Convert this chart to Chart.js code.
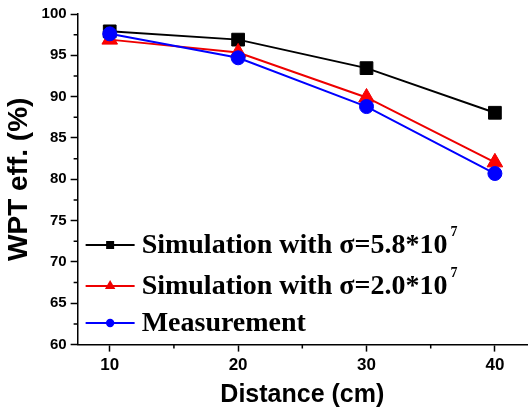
<!DOCTYPE html>
<html>
<head>
<meta charset="utf-8">
<script src="https://cdn.jsdelivr.net/npm/chart.js@4/dist/chart.umd.min.js"></script>
<style>
html,body{margin:0;padding:0;background:#fff;}
#wrap{width:529px;height:410px;}
</style>
</head>
<body>
<div id="wrap"><canvas id="c" width="529" height="410"></canvas></div>
<script>
// ---- data ----
const distances = [10, 20, 30, 40];
const simCopper = [97.9, 96.9, 93.45, 88.05];
const simLow = [96.9, 95.35, 89.9, 82.05];
const measured = [97.6, 94.7, 88.8, 80.7];
const seriesLabels = ['Simulation with \u03c3=5.8*10^7', 'Simulation with \u03c3=2.0*10^7', 'Measurement'];
const xTickValues = [10, 20, 30, 40];
const yTickValues = [60, 65, 70, 75, 80, 85, 90, 95, 100];
const xTitle = 'Distance (cm)';
const yTitle = 'WPT eff. (%)';

const toPts = arr => distances.map((d, i) => ({x: d, y: arr[i]}));
const SANS = '"Liberation Sans", Arial, sans-serif';
const SERIF = '"Liberation Serif", "Times New Roman", serif';

function drawMarker(ctx, style, x, y, r, color) {
  ctx.save();
  ctx.fillStyle = color;
  ctx.beginPath();
  if (style === 'rect') {
    ctx.rect(x - r, y - r, 2 * r, 2 * r);
  } else if (style === 'triangle') {
    ctx.moveTo(x, y - r);
    ctx.lineTo(x + r * 0.866, y + r * 0.5);
    ctx.lineTo(x - r * 0.866, y + r * 0.5);
    ctx.closePath();
  } else {
    ctx.arc(x, y, r, 0, Math.PI * 2);
  }
  ctx.fill();
  ctx.restore();
}

const insideLegend = {
  id: 'insideLegend',
  afterDraw(chart) {
    const {ctx, chartArea} = chart;
    const rowOffsets = [231, 272, 309];
    const legendMarker = [4, 6, 4.2];
    chart.data.datasets.forEach((ds, i) => {
      const y = chartArea.top + rowOffsets[i];
      const x0 = chartArea.left + 8, x1 = chartArea.left + 57;
      ctx.save();
      ctx.strokeStyle = ds.borderColor;
      ctx.lineWidth = 2;
      ctx.beginPath();
      ctx.moveTo(x0, y); ctx.lineTo(x1, y);
      ctx.stroke();
      drawMarker(ctx, ds.pointStyle, (x0 + x1) / 2, y, legendMarker[i], ds.borderColor);
      const parts = ds.label.split('^');
      ctx.fillStyle = '#000';
      ctx.textBaseline = 'alphabetic';
      ctx.textAlign = 'left';
      ctx.font = 'bold 28px ' + SERIF;
      const tx = x1 + 7, ty = y + 8;
      ctx.fillText(parts[0], tx, ty);
      if (parts[1]) {
        const w = ctx.measureText(parts[0]).width;
        ctx.font = 'bold 14px ' + SERIF;
        ctx.fillText(parts[1], tx + w + 3, ty - 17);
      }
      ctx.restore();
    });
  }
};

const minorTicks = {
  id: 'minorTicks',
  afterDraw(chart) {
    const {ctx} = chart;
    const xs = chart.scales.x, ys = chart.scales.y;
    ctx.save();
    ctx.strokeStyle = '#000';
    ctx.lineWidth = 1.5;
    ctx.beginPath();
    for (let i = 0; i < yTickValues.length - 1; i++) {
      const v = (yTickValues[i] + yTickValues[i + 1]) / 2;
      const p = ys.getPixelForValue(v);
      ctx.moveTo(ys.right, p); ctx.lineTo(ys.right - 4, p);
    }
    for (let i = 0; i < xTickValues.length - 1; i++) {
      const v = (xTickValues[i] + xTickValues[i + 1]) / 2;
      const p = xs.getPixelForValue(v);
      ctx.moveTo(p, xs.top); ctx.lineTo(p, xs.top + 4);
    }
    ctx.stroke();
    ctx.restore();
  }
};

new Chart(document.getElementById('c'), {
  type: 'line',
  data: {
    datasets: [
      {label: seriesLabels[0], data: toPts(simCopper), borderColor: '#000000', backgroundColor: '#000000',
       pointStyle: 'rect', pointRadius: 9, borderWidth: 2, pointBorderWidth: 1, order: 2},
      {label: seriesLabels[1], data: toPts(simLow), borderColor: '#ee0000', backgroundColor: '#ff0000',
       pointStyle: 'triangle', pointRadius: 9, borderWidth: 2, pointBorderWidth: 1, order: 1},
      {label: seriesLabels[2], data: toPts(measured), borderColor: '#0000ff', backgroundColor: '#0000ff',
       pointStyle: 'circle', pointRadius: 7, borderWidth: 2, pointBorderWidth: 1, order: 0}
    ]
  },
  options: {
    responsive: false,
    animation: false,
    devicePixelRatio: 1,
    layout: {autoPadding: false, padding: {top: 14, right: 2, left: 2, bottom: 0}},
    plugins: {legend: {display: false}, tooltip: {enabled: false}},
    elements: {line: {tension: 0}},
    scales: {
      x: {
        type: 'linear', min: 7.5, max: 42.5,
        afterBuildTicks: s => { s.ticks = xTickValues.map(v => ({value: v})); },
        afterFit: s => { s.paddingLeft = 0; s.paddingRight = 0; },
        ticks: {color: '#000', font: {family: SANS, size: 17, weight: 'bold'}, padding: 4},
        grid: {drawOnChartArea: false, drawTicks: true, tickLength: 7, tickWidth: 1.5, tickColor: '#000'},
        border: {color: '#000', width: 1.5},
        title: {display: true, text: xTitle, color: '#000', font: {family: SANS, size: 25, weight: 'bold'}, padding: {top: 0, bottom: 0}}
      },
      y: {
        min: 60, max: 100,
        afterBuildTicks: s => { s.ticks = yTickValues.map(v => ({value: v})); },
        afterFit: s => { s.paddingTop = 0; s.paddingBottom = 0; },
        ticks: {color: '#000', font: {family: SANS, size: 15, weight: 'bold'}, padding: 4},
        grid: {drawOnChartArea: false, drawTicks: true, tickLength: 7, tickWidth: 1.5, tickColor: '#000'},
        border: {color: '#000', width: 1.5},
        title: {display: true, text: yTitle, color: '#000', font: {family: SANS, size: 28, weight: 'bold'}, padding: {top: 0, bottom: 2}}
      }
    }
  },
  plugins: [insideLegend, minorTicks]
});
</script>
</body>
</html>
